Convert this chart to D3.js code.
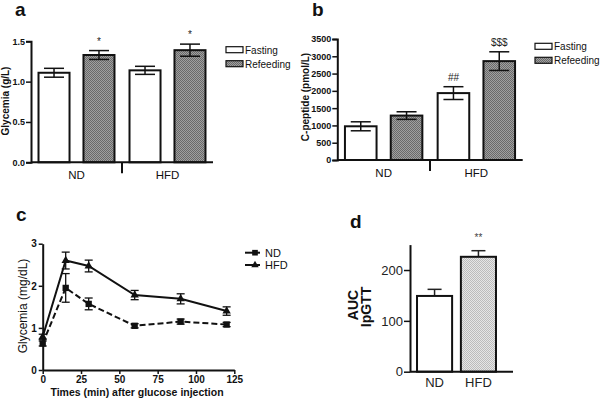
<!DOCTYPE html>
<html><head><meta charset="utf-8">
<script src="https://cdn.jsdelivr.net/npm/d3@7"></script>
<style>
body{margin:0;background:#fff;}
svg{display:block;font-family:"Liberation Sans",Arial,sans-serif;}
</style></head>
<body><svg id="chart" width="600" height="400"></svg>
<script>
// ---------- DATA ----------
const groups = ["ND", "HFD"];
const conditions = ["Fasting", "Refeeding"];
// Panel a: glycemia (g/L)
const glyMean = [[1.11, 1.33], [1.14, 1.39]];
const glyErr = [[0.055, 0.055], [0.05, 0.075]];
const glyTicks = [0, 0.5, 1.0, 1.5];
const glyMarks = [[null, "*"], [null, "*"]];
// Panel b: C-peptide (pmol/L)
const cpMean = [[975, 1285], [1935, 2860]];
const cpErr = [[130, 110], [185, 270]];
const cpTicks = [0, 500, 1000, 1500, 2000, 2500, 3000, 3500];
const cpMarks = [[null, null], ["##", "$$$"]];
// Panel c: IpGTT time course
const times = [0, 15, 30, 60, 90, 120];
const ndCurve = [0.63, 1.95, 1.57, 1.05, 1.15, 1.08];
const ndCurveErr = [0.06, 0.34, 0.14, 0.05, 0.06, 0.05];
const hfdCurve = [0.79, 2.6, 2.47, 1.78, 1.69, 1.40];
const hfdCurveErr = [0.06, 0.2, 0.14, 0.11, 0.12, 0.1];
const timeTicks = [0, 25, 50, 75, 100, 125];
const cYTicks = [0, 1, 2, 3];
// Panel d: AUC
const aucMean = [149, 226];
const aucErr = [13, 12];
const aucTicks = [0, 100, 200];

// ---------- SETUP ----------
const svg = d3.select("#chart");
const defs = svg.append("defs");
function checker(id, c1, c2) {
  const p = defs.append("pattern").attr("id", id).attr("width", 2).attr("height", 2)
    .attr("patternUnits", "userSpaceOnUse");
  p.append("rect").attr("width", 2).attr("height", 2).attr("fill", c1);
  p.append("rect").attr("width", 1).attr("height", 1).attr("fill", c2);
  p.append("rect").attr("x", 1).attr("y", 1).attr("width", 1).attr("height", 1).attr("fill", c2);
}
checker("darkChk", "#a0a0a0", "#6a6a6a");
checker("lightChk", "#e6e6e6", "#bcbcbc");
const fills = ["#fff", "url(#darkChk)"];

function styleAxis(g, fs, weight, color) {
  g.select(".domain").attr("stroke", "#111").attr("stroke-width", 2);
  g.selectAll(".tick line").attr("stroke", "#111").attr("stroke-width", 1.5);
  g.selectAll(".tick text").attr("font-size", fs).attr("font-weight", weight)
    .attr("fill", color || "#111").attr("font-family", '"Liberation Sans",Arial,sans-serif');
}

function panelLetter(txt, x, y) {
  svg.append("text").attr("x", x).attr("y", y).attr("font-size", 19).attr("font-weight", "bold")
    .attr("fill", "#111").text(txt);
}

// ---------- GROUPED BAR PANEL ----------
function groupedPanel(o) {
  const y = d3.scaleLinear().domain(o.domain).range([o.y0, o.y1]);
  const x0 = d3.scaleBand().domain(groups).range([o.xL, o.xR]);
  const x1 = d3.scaleBand().domain(conditions).range([0, x0.bandwidth()])
    .paddingInner(0.31).paddingOuter(0.167);
  const g = svg.append("g");
  groups.forEach((grp, gi) => {
    conditions.forEach((c, ci) => {
      const bx = x0(grp) + x1(c);
      const v = o.mean[gi][ci], e = o.err[gi][ci];
      g.append("rect").attr("x", bx).attr("y", y(v)).attr("width", x1.bandwidth())
        .attr("height", y(0) - y(v)).attr("fill", fills[ci]).attr("stroke", "#111").attr("stroke-width", 2);
      const cx = bx + x1.bandwidth() / 2;
      const eg = g.append("g").attr("stroke", "#111").attr("stroke-width", 1.5);
      eg.append("line").attr("x1", cx).attr("x2", cx).attr("y1", y(v + e)).attr("y2", y(v - e));
      eg.append("line").attr("x1", cx - 10).attr("x2", cx + 10).attr("y1", y(v + e)).attr("y2", y(v + e));
      eg.append("line").attr("x1", cx - 10).attr("x2", cx + 10).attr("y1", y(v - e)).attr("y2", y(v - e));
      const m = o.marks[gi][ci];
      if (m) {
        g.append("text").attr("x", cx).attr("y", y(v + e) - 6).attr("text-anchor", "middle")
          .attr("font-size", 10).attr("fill", "#222").text(m);
      }
    });
  });
  const ya = g.append("g").attr("transform", `translate(${o.xL},0)`)
    .call(d3.axisLeft(y).tickValues(o.ticks).tickFormat(o.fmt).tickSizeOuter(0).tickSize(5).tickPadding(1));
  styleAxis(ya, 9, "bold");
  g.append("line").attr("x1", o.xL).attr("x2", o.xR).attr("y1", y(0)).attr("y2", y(0))
    .attr("stroke", "#111").attr("stroke-width", 2);
  const sep = x0("HFD");
  g.append("line").attr("x1", sep).attr("x2", sep).attr("y1", y(0)).attr("y2", y(0) + 11)
    .attr("stroke", "#111").attr("stroke-width", 2);
  groups.forEach(grp => {
    g.append("text").attr("x", x0(grp) + x0.bandwidth() / 2).attr("y", o.labY)
      .attr("text-anchor", "middle").attr("font-size", 11.5).attr("fill", "#111").text(grp);
  });
  g.append("text").attr("transform", `translate(${o.ylabX},${o.ylabY}) rotate(-90)`)
    .attr("text-anchor", "middle").attr("font-size", 10).attr("font-weight", "bold")
    .attr("fill", "#111").text(o.ylab);
  conditions.forEach((c, ci) => {
    const ly = o.legY + ci * 14;
    g.append("rect").attr("x", o.legX).attr("y", ly - 3).attr("width", 17).attr("height", 6)
      .attr("fill", fills[ci]).attr("stroke", "#111").attr("stroke-width", 1.2);
    g.append("text").attr("x", o.legX + 19).attr("y", ly + 4).attr("font-size", 10)
      .attr("fill", "#111").text(c);
  });
}

groupedPanel({domain: [0, 1.5], y0: 162.3, y1: 41.3, xL: 31, xR: 213, mean: glyMean, err: glyErr,
  marks: glyMarks, ticks: glyTicks, fmt: d3.format(".1f"), labY: 179, ylab: "Glycemia (g/L)",
  ylabX: 9, ylabY: 101, legX: 226, legY: 49.7});
groupedPanel({domain: [0, 3500], y0: 160, y1: 39, xL: 337.3, xR: 522.7, mean: cpMean, err: cpErr,
  marks: cpMarks, ticks: cpTicks, fmt: d3.format("d"), labY: 177, ylab: "C-peptide (pmol/L)",
  ylabX: 309, ylabY: 97, legX: 535, legY: 46.3});
panelLetter("a", 15, 16);
panelLetter("b", 312, 16);

// ---------- PANEL C ----------
(function () {
  const x = d3.scaleLinear().domain([0, 125]).range([42.7, 234.3]);
  const y = d3.scaleLinear().domain([0, 3]).range([370, 243.7]);
  const g = svg.append("g");
  const xa = g.append("g").attr("transform", `translate(0,${y(0)})`)
    .call(d3.axisBottom(x).tickValues(timeTicks).tickFormat(d3.format("d")).tickSize(4).tickSizeOuter(0).tickPadding(2));
  styleAxis(xa, 10, "bold");
  const ya = g.append("g").attr("transform", `translate(${x(0)},0)`)
    .call(d3.axisLeft(y).tickValues(cYTicks).tickFormat(d3.format("d")).tickSize(4).tickSizeOuter(0).tickPadding(2));
  styleAxis(ya, 10, "bold");
  const series = [
    {vals: ndCurve, err: ndCurveErr, dash: "6,3", shape: d3.symbolSquare, size: 40},
    {vals: hfdCurve, err: hfdCurveErr, dash: null, shape: d3.symbolTriangle, size: 30}
  ];
  const line = d3.line().x((d, i) => x(times[i])).y(d => y(d));
  series.forEach(s => {
    g.append("path").datum(s.vals).attr("d", line).attr("fill", "none").attr("stroke", "#111")
      .attr("stroke-width", 2).attr("stroke-dasharray", s.dash);
    s.vals.forEach((v, i) => {
      const cx = x(times[i]), e = s.err[i];
      const eg = g.append("g").attr("stroke", "#111").attr("stroke-width", 1.3);
      eg.append("line").attr("x1", cx).attr("x2", cx).attr("y1", y(v + e)).attr("y2", y(v - e));
      eg.append("line").attr("x1", cx - 4).attr("x2", cx + 4).attr("y1", y(v + e)).attr("y2", y(v + e));
      eg.append("line").attr("x1", cx - 4).attr("x2", cx + 4).attr("y1", y(v - e)).attr("y2", y(v - e));
      g.append("path").attr("d", d3.symbol().type(s.shape).size(s.size)())
        .attr("transform", `translate(${cx},${y(v)})`).attr("fill", "#111");
    });
  });
  const legs = [["ND", series[0]], ["HFD", series[1]]];
  legs.forEach(([name, s], i) => {
    const ly = 252.7 + i * 12.3;
    g.append("line").attr("x1", 245).attr("x2", 260).attr("y1", ly).attr("y2", ly)
      .attr("stroke", "#111").attr("stroke-width", 2);
    g.append("path").attr("d", d3.symbol().type(s.shape).size(s.size * 0.8)())
      .attr("transform", `translate(255,${ly})`).attr("fill", "#111");
    g.append("text").attr("x", 265).attr("y", ly + 4).attr("font-size", 11).attr("fill", "#111").text(name);
  });
  g.append("text").attr("x", 137).attr("y", 396).attr("text-anchor", "middle")
    .attr("font-size", 10.5).attr("font-weight", "bold").attr("fill", "#111")
    .text("Times (min) after glucose injection");
  g.append("text").attr("transform", "translate(27,306) rotate(-90)").attr("text-anchor", "middle")
    .attr("font-size", 12).attr("fill", "#111").text("Glycemia (mg/dL)");
})();
panelLetter("c", 16, 221);

// ---------- PANEL D ----------
(function () {
  const y = d3.scaleLinear().domain([0, 250]).range([371.7, 244.6]);
  const x = d3.scaleBand().domain(groups).range([410, 503]).paddingInner(0.2).paddingOuter(0.16);
  const g = svg.append("g");
  const dfills = ["#fff", "url(#lightChk)"];
  groups.forEach((grp, i) => {
    const v = aucMean[i], e = aucErr[i];
    const cx = x(grp) + x.bandwidth() / 2;
    const eg = g.append("g").attr("stroke", "#222").attr("stroke-width", 1.5);
    eg.append("line").attr("x1", cx).attr("x2", cx).attr("y1", y(v + e)).attr("y2", y(v));
    eg.append("line").attr("x1", cx - 7).attr("x2", cx + 7).attr("y1", y(v + e)).attr("y2", y(v + e));
    g.append("rect").attr("x", x(grp)).attr("y", y(v)).attr("width", x.bandwidth())
      .attr("height", y(0) - y(v)).attr("fill", dfills[i]).attr("stroke", "#111").attr("stroke-width", 2);
    g.append("text").attr("x", cx).attr("y", 386.5).attr("text-anchor", "middle")
      .attr("font-size", 13).attr("fill", "#222").text(grp);
  });
  const ya = g.append("g").attr("transform", "translate(410,0)")
    .call(d3.axisLeft(y).tickValues(aucTicks).tickSize(6).tickSizeOuter(0).tickPadding(1));
  styleAxis(ya, 13, "normal", "#222");
  g.append("line").attr("x1", 410).attr("x2", 513).attr("y1", y(0)).attr("y2", y(0))
    .attr("stroke", "#111").attr("stroke-width", 2);
  const hx = x("HFD") + x.bandwidth() / 2;
  g.append("text").attr("x", hx).attr("y", y(aucMean[1] + aucErr[1]) - 10).attr("text-anchor", "middle")
    .attr("font-size", 10).attr("fill", "#444").text("**");
  g.append("text").attr("transform", "translate(358,305) rotate(-90)").attr("text-anchor", "middle")
    .attr("font-size", 14).attr("font-weight", "bold").attr("fill", "#111").text("AUC");
  g.append("text").attr("transform", "translate(371,307) rotate(-90)").attr("text-anchor", "middle")
    .attr("font-size", 14).attr("font-weight", "bold").attr("fill", "#111").text("IpGTT");
})();
panelLetter("d", 350, 228);
</script></body></html>
